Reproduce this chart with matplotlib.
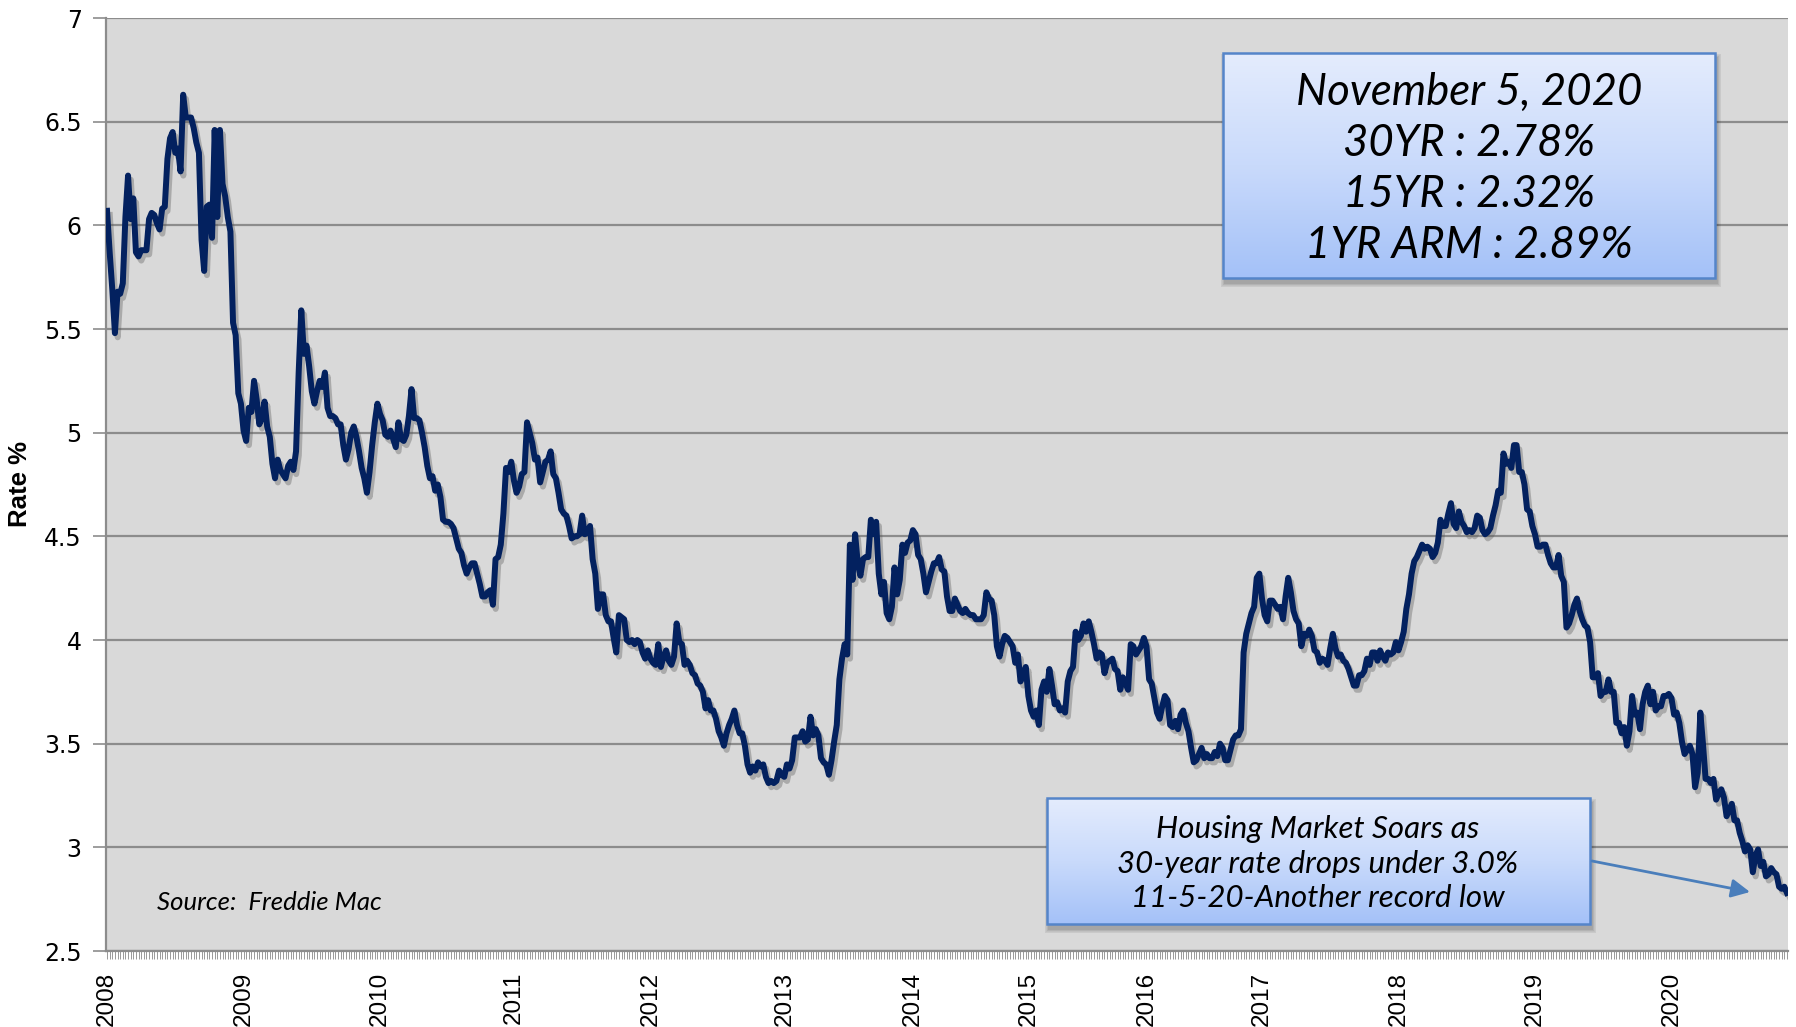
import numpy as np
import matplotlib
matplotlib.use("Agg")
import matplotlib.pyplot as plt
import matplotlib.patheffects as pe
from matplotlib.patches import Rectangle
from matplotlib.colors import LinearSegmentedColormap

# Freddie Mac 30-year fixed rate, weekly points as they appear in the chart
rates_2008 = [6.07, 5.87, 5.69, 5.48, 5.68, 5.67, 5.72, 6.04, 6.24, 6.03, 6.13, 5.87, 5.85,
              5.88, 5.88, 5.88, 6.03, 6.06, 6.05, 6.01, 5.98, 6.08, 6.09, 6.32, 6.42, 6.45,
              6.35, 6.37, 6.26, 6.63, 6.52, 6.52, 6.52, 6.47, 6.40, 6.35, 5.93, 5.78, 6.09,
              6.10, 5.94, 6.46, 6.04, 6.46, 6.20, 6.14, 6.04, 5.97, 5.53, 5.47, 5.19, 5.14]
rates_2009 = [5.01, 4.96, 5.12, 5.10, 5.25, 5.16, 5.04, 5.07, 5.15, 5.03, 4.98, 4.85, 4.78,
              4.87, 4.82, 4.80, 4.78, 4.84, 4.86, 4.82, 4.91, 5.29, 5.59, 5.38, 5.42, 5.32,
              5.20, 5.14, 5.20, 5.25, 5.22, 5.29, 5.12, 5.08, 5.08, 5.07, 5.04, 5.04, 4.94,
              4.87, 4.92, 5.00, 5.03, 4.98, 4.91, 4.83, 4.78, 4.71, 4.81, 4.94, 5.05, 5.14]
rates_2010 = [5.09, 5.06, 4.99, 4.98, 5.01, 4.97, 4.93, 5.05, 4.97, 4.96, 4.99, 5.08, 5.21,
              5.07, 5.07, 5.06, 5.00, 4.93, 4.84, 4.78, 4.79, 4.72, 4.75, 4.69, 4.58, 4.57,
              4.57, 4.56, 4.54, 4.49, 4.44, 4.42, 4.36, 4.32, 4.35, 4.37, 4.37, 4.32, 4.27,
              4.21, 4.21, 4.23, 4.24, 4.17, 4.39, 4.40, 4.46, 4.61, 4.83, 4.81, 4.86]
rates_2011 = [4.77, 4.71, 4.74, 4.80, 4.81, 5.05, 5.00, 4.95, 4.87, 4.88, 4.76, 4.81, 4.86,
              4.87, 4.91, 4.80, 4.78, 4.71, 4.63, 4.61, 4.60, 4.55, 4.49, 4.50, 4.50, 4.51,
              4.60, 4.51, 4.52, 4.55, 4.39, 4.32, 4.15, 4.22, 4.22, 4.12, 4.09, 4.09, 4.01,
              3.94, 4.12, 4.11, 4.10, 4.00, 3.99, 4.00, 3.98, 4.00, 3.99, 3.94, 3.91, 3.95]
rates_2012 = [3.91, 3.89, 3.88, 3.98, 3.87, 3.92, 3.95, 3.90, 3.88, 3.92, 4.08, 3.99, 3.98,
              3.88, 3.90, 3.88, 3.84, 3.83, 3.79, 3.78, 3.75, 3.67, 3.71, 3.66, 3.66, 3.62,
              3.56, 3.53, 3.49, 3.55, 3.59, 3.62, 3.66, 3.59, 3.55, 3.55, 3.49, 3.40, 3.36,
              3.39, 3.37, 3.41, 3.39, 3.40, 3.34, 3.31, 3.32, 3.31, 3.32, 3.37, 3.35]
rates_2013 = [3.34, 3.40, 3.38, 3.42, 3.53, 3.53, 3.53, 3.56, 3.51, 3.52, 3.63, 3.54, 3.57,
              3.54, 3.43, 3.41, 3.40, 3.35, 3.42, 3.51, 3.59, 3.81, 3.91, 3.98, 3.93, 4.46,
              4.29, 4.51, 4.37, 4.31, 4.39, 4.40, 4.40, 4.58, 4.51, 4.57, 4.32, 4.22, 4.28,
              4.13, 4.10, 4.16, 4.35, 4.22, 4.29, 4.46, 4.42, 4.47, 4.48]
rates_2014 = [4.53, 4.51, 4.41, 4.39, 4.32, 4.23, 4.28, 4.33, 4.37, 4.37, 4.40, 4.34, 4.33,
              4.21, 4.14, 4.14, 4.20, 4.17, 4.14, 4.13, 4.15, 4.13, 4.12, 4.12, 4.10, 4.10,
              4.10, 4.12, 4.23, 4.20, 4.19, 4.12, 3.97, 3.92, 3.98, 4.02, 4.01, 3.99, 3.97,
              3.89, 3.93, 3.80, 3.83, 3.87]
rates_2015 = [3.73, 3.66, 3.63, 3.66, 3.59, 3.76, 3.80, 3.75, 3.86, 3.78, 3.69, 3.70, 3.66,
              3.67, 3.65, 3.80, 3.85, 3.87, 4.04, 4.00, 4.02, 4.08, 4.04, 4.09, 4.04, 3.98,
              3.91, 3.94, 3.93, 3.84, 3.89, 3.90, 3.91, 3.86, 3.85, 3.76, 3.82, 3.79, 3.76,
              3.98, 3.97, 3.93, 3.95, 3.97, 4.01]
rates_2016 = [3.97, 3.81, 3.79, 3.72, 3.65, 3.62, 3.68, 3.73, 3.71, 3.59, 3.58, 3.61, 3.57,
              3.64, 3.66, 3.60, 3.56, 3.48, 3.41, 3.42, 3.45, 3.48, 3.43, 3.45, 3.43, 3.43,
              3.46, 3.44, 3.50, 3.48, 3.42, 3.42, 3.47, 3.52, 3.54, 3.54, 3.57, 3.94, 4.03,
              4.08, 4.13, 4.16, 4.30, 4.32]
rates_2017 = [4.20, 4.12, 4.09, 4.19, 4.19, 4.17, 4.15, 4.16, 4.10, 4.21, 4.30, 4.23, 4.14,
              4.10, 4.08, 3.97, 4.03, 4.02, 4.05, 4.02, 3.95, 3.94, 3.89, 3.91, 3.90, 3.88,
              3.96, 4.03, 3.96, 3.92, 3.93, 3.90, 3.89, 3.86, 3.82, 3.78, 3.78, 3.83, 3.83,
              3.85, 3.91, 3.88, 3.94, 3.94, 3.90, 3.95, 3.92, 3.90, 3.94, 3.93, 3.94, 3.99]
rates_2018 = [3.95, 3.99, 4.04, 4.15, 4.22, 4.32, 4.38, 4.40, 4.43, 4.46, 4.44, 4.45, 4.44,
              4.40, 4.42, 4.47, 4.58, 4.55, 4.55, 4.61, 4.66, 4.56, 4.54, 4.62, 4.57, 4.55,
              4.52, 4.53, 4.52, 4.54, 4.60, 4.59, 4.53, 4.51, 4.52, 4.54, 4.60, 4.65, 4.72,
              4.71, 4.90, 4.85, 4.86, 4.83, 4.94, 4.94, 4.81, 4.81, 4.75, 4.63, 4.62, 4.55]
rates_2019 = [4.51, 4.45, 4.45, 4.46, 4.46, 4.41, 4.37, 4.35, 4.35, 4.41, 4.31, 4.28, 4.06,
              4.08, 4.12, 4.17, 4.20, 4.14, 4.10, 4.07, 4.06, 3.99, 3.82, 3.82, 3.84, 3.73,
              3.75, 3.75, 3.81, 3.75, 3.75, 3.60, 3.60, 3.55, 3.58, 3.49, 3.56, 3.73, 3.64,
              3.65, 3.57, 3.69, 3.75, 3.78, 3.69, 3.75, 3.66, 3.68, 3.68, 3.73, 3.73, 3.74]
rates_2020 = [3.72, 3.64, 3.65, 3.60, 3.51, 3.45, 3.47, 3.49, 3.45, 3.29, 3.36, 3.65, 3.50,
              3.33, 3.33, 3.31, 3.33, 3.23, 3.26, 3.28, 3.24, 3.15, 3.18, 3.21, 3.13, 3.13,
              3.07, 3.03, 2.98, 3.01, 2.99, 2.88, 2.96, 2.99, 2.91, 2.93, 2.86, 2.87, 2.90,
              2.88, 2.87, 2.81, 2.80, 2.81, 2.78]

years = ["2008", "2009", "2010", "2011", "2012", "2013", "2014",
         "2015", "2016", "2017", "2018", "2019", "2020"]
by_year = [rates_2008, rates_2009, rates_2010, rates_2011, rates_2012, rates_2013, rates_2014,
           rates_2015, rates_2016, rates_2017, rates_2018, rates_2019, rates_2020]

box_lines = ["November 5, 2020", "30YR : 2.78%", "15YR : 2.32%", "1YR ARM : 2.89%"]
note_lines = ["Housing Market Soars as", "30-year rate drops under 3.0%",
              "11-5-20-Another record low"]

rates = np.concatenate(by_year)
x = np.arange(len(rates))
year_starts = np.cumsum([0] + [len(r) for r in by_year[:-1]])

W, H = 1796, 1027
fig = plt.figure(figsize=(W / 100, H / 100), dpi=100)
ax = fig.add_axes([106 / W, 1 - 951 / H, (1788 - 106) / W, (951 - 18) / H])
ax.set_facecolor("#d9d9d9")

ax.plot(x, rates, color="#03215f", lw=4.3, solid_joinstyle="round", zorder=3,
        path_effects=[pe.SimpleLineShadow(offset=(2, -3), shadow_color="#555555", alpha=0.35),
                      pe.Normal()])

ax.set_xlim(-0.4, len(rates) - 0.6)
ax.set_ylim(2.5, 7)
yt = np.arange(2.5, 7.01, 0.5)
ax.set_yticks(yt)
ax.set_yticklabels([f"{v:g}" for v in yt], fontsize=17, family="DejaVu Sans")
ax.yaxis.grid(True, color="#8c8c8c", lw=1.6, zorder=1)
ax.set_axisbelow(True)
ax.tick_params(axis="y", length=9.5, width=1.2, color="#8c8c8c", pad=8)

ax.set_xticks(year_starts)
ax.set_xticklabels(years, rotation=90, fontsize=17.5, family="Liberation Sans")
ax.set_xticks(x, minor=True)
ax.tick_params(axis="x", which="both", length=6, width=0.7, color="#999999", pad=9)

for s in ["top", "right"]:
    ax.spines[s].set_visible(False)
for s in ["left", "bottom"]:
    ax.spines[s].set_color("#8c8c8c")
    ax.spines[s].set_linewidth(1.6)

fig.text(20 / W, 1 - 484 / H, "Rate %", rotation=90, ha="center", va="center",
         fontsize=18.5, fontweight="bold", family="Liberation Sans")

# overlay in pixel coordinates for the callout boxes
ov = fig.add_axes([0, 0, 1, 1], zorder=5)
ov.axis("off")
ov.patch.set_alpha(0)

grad = LinearSegmentedColormap.from_list("box", ["#e4ecfd", "#c9dafb", "#a4c1f8"])
gvals = np.linspace(0, 1, 256).reshape(-1, 1)


def callout(x0, y0, x1, y1):
    for k in range(1, 8):
        ov.add_patch(Rectangle((x0 + 2 - k * 0.6, y0 + 5 - k * 0.6), x1 - x0 + k * 1.2,
                               y1 - y0 + k * 1.2, facecolor="black", alpha=0.035,
                               edgecolor="none", zorder=1))
    ov.imshow(gvals, cmap=grad, extent=(x0, x1, y1, y0), aspect="auto", origin="upper",
              zorder=2)
    ov.add_patch(Rectangle((x0, y0), x1 - x0, y1 - y0, facecolor="none",
                           edgecolor="#5585c9", lw=1.8, zorder=3))


callout(1223, 53, 1715, 278)
for i, line in enumerate(box_lines):
    ov.text(1469, 92 + i * 51.3, line, ha="center", va="center",
            fontsize=31.5, style="italic", family="Lato", color="black", zorder=4)

callout(1047, 798, 1590, 924)
for i, line in enumerate(note_lines):
    ov.text(1318, 829 + i * 34.5, line, ha="center", va="center", fontsize=22.5,
            style="italic", family="Lato", color="black", zorder=4)

ov.annotate("", xy=(1750, 892), xytext=(1592, 861),
            arrowprops=dict(arrowstyle="-|>", color="#4a7ebb", lw=2, mutation_scale=28,
                            shrinkA=0, shrinkB=0), zorder=4)

ov.text(157, 903, "Source:  Freddie Mac", ha="left", va="center", fontsize=18.5,
        style="italic", family="Lato", color="black")

ov.set_xlim(0, W)
ov.set_ylim(H, 0)

fig.savefig("out.png", dpi=100)
